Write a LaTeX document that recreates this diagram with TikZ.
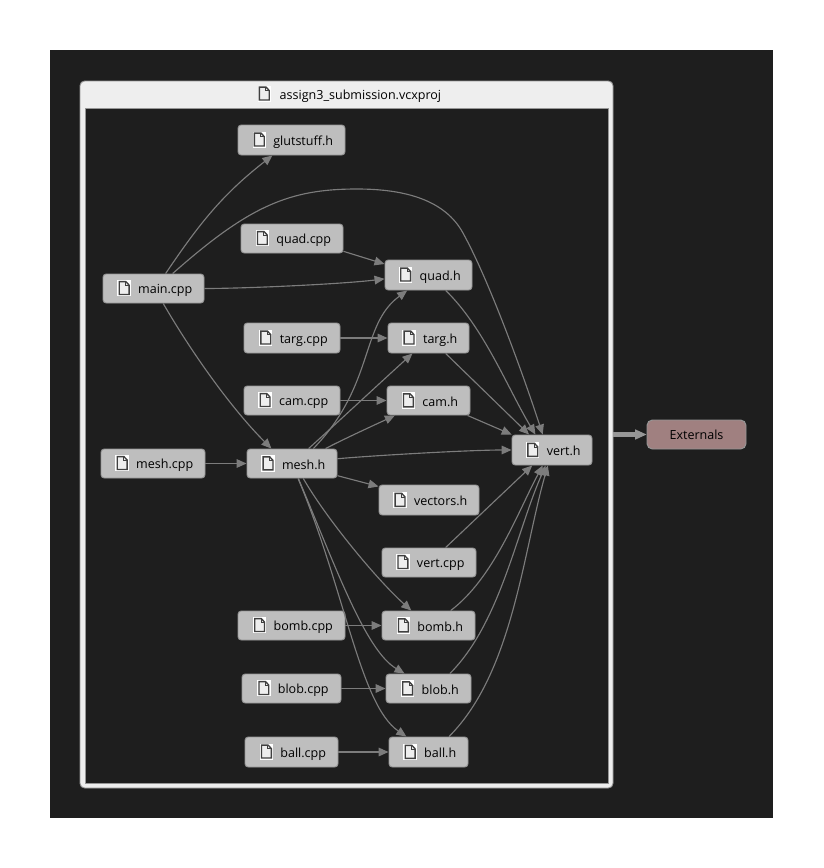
\documentclass[tikz,border=0pt]{standalone}
\usepackage{fontspec}
\setmainfont{Open Sans}
\usetikzlibrary{arrows.meta}

\definecolor{pagedark}{HTML}{1E1E1E}
\definecolor{boxgray}{HTML}{BEBEBE}
\definecolor{boxline}{HTML}{969696}
\definecolor{edgegray}{HTML}{7C7C7C}
\definecolor{extred}{HTML}{A08080}
\definecolor{titlegray}{HTML}{EEEEEE}

\newcommand{\fileicon}{\hspace{2pt}\tikz[baseline=1pt,x=1pt,y=1pt,sharp corners,line join=miter]{
    \fill[white] (-0.8,-0.8) rectangle (9.3,11.3);
    \draw[fill=titlegray,draw=pagedark!85,line width=1pt] (0.6,0.5) -- (0.6,10.2) -- (5.6,10.2) -- (8,7.6) -- (8,0.5) -- cycle;
    \draw[draw=pagedark!85,line width=0.8pt] (5.4,10.2) -- (5.4,7.4) -- (8,7.4);
}}

\begin{document}
\begin{tikzpicture}[x=0.75pt,y=0.75pt,font=\fontsize{9.4pt}{10pt}\selectfont,
                    box size/.style 2 args={minimum width=#1*0.75pt,minimum height=#2*0.75pt},
                    main node/.style={draw=boxline,fill=boxgray,rounded corners=2.5pt,line width=0.7pt,
                                      text=black,inner sep=0pt},
                    dep/.style={draw=edgegray,line width=0.85pt,-{Triangle[length=7.5pt,width=6.5pt,fill=edgegray]}}]

    \useasboundingbox (0,0) rectangle (824,-868);
    \fill[pagedark] (50,-50) rectangle (773,-818);

    % project frame
    \node[draw=boxline,fill=titlegray,rounded corners=3.5pt,line width=0.7pt,box size={533}{707}] (group) at (346.5,-434.5) {};
    \filldraw[fill=pagedark,draw=boxline,line width=0.6pt] (85,-108) rectangle (608,-783);
    \node[text=black,inner sep=0pt] (title) at (348,-94) {\fileicon\hspace{6.5pt}assign3\_submission.vcxproj};

    \node[main node,box size={107}{30}] (glutstuff) at (291.5,-140) {\fileicon\hspace{5.5pt}glutstuff.h};
    \node[main node,box size={102}{29}] (quadcpp) at (292,-238.5) {\fileicon\hspace{5.5pt}quad.cpp};
    \node[main node,box size={101}{29}] (main) at (153.5,-288.5) {\fileicon\hspace{5.5pt}main.cpp};
    \node[main node,box size={87}{30}] (quad) at (428.5,-275) {\fileicon\hspace{5.5pt}quad.h};
    \node[main node,box size={96}{30}] (targcpp) at (292,-338) {\fileicon\hspace{5.5pt}targ.cpp};
    \node[main node,box size={81}{30}] (targ) at (428.5,-338) {\fileicon\hspace{5.5pt}targ.h};
    \node[main node,box size={96}{29}] (camcpp) at (292,-400.5) {\fileicon\hspace{5.5pt}cam.cpp};
    \node[main node,box size={83}{29}] (cam) at (428.5,-400.5) {\fileicon\hspace{5.5pt}cam.h};
    \node[main node,box size={80}{30}] (vert) at (552,-450) {\fileicon\hspace{5.5pt}vert.h};
    \node[main node,box size={104}{29}] (meshcpp) at (153,-463.5) {\fileicon\hspace{5.5pt}mesh.cpp};
    \node[main node,box size={90}{29}] (mesh) at (292,-463.5) {\fileicon\hspace{5.5pt}mesh.h};
    \node[main node,box size={100}{30}] (vectors) at (429,-500) {\fileicon\hspace{5.5pt}vectors.h};
    \node[main node,box size={94}{29}] (vertcpp) at (429,-562.5) {\fileicon\hspace{5.5pt}vert.cpp};
    \node[main node,box size={107}{29}] (bombcpp) at (291.5,-625.5) {\fileicon\hspace{5.5pt}bomb.cpp};
    \node[main node,box size={93}{29}] (bomb) at (428.5,-625.5) {\fileicon\hspace{5.5pt}bomb.h};
    \node[main node,box size={99}{29}] (blobcpp) at (291.5,-688.5) {\fileicon\hspace{5.5pt}blob.cpp};
    \node[main node,box size={85}{29}] (blob) at (428.5,-688.5) {\fileicon\hspace{5.5pt}blob.h};
    \node[main node,box size={93}{30}] (ballcpp) at (291.5,-752) {\fileicon\hspace{5.5pt}ball.cpp};
    \node[main node,box size={79}{30}] (ball) at (428.5,-752) {\fileicon\hspace{5.5pt}ball.h};
    \node[main node,fill=extred,rounded corners=4pt,box size={99}{29}] (ext) at (696.5,-434.5) {Externals};

    % dependencies
    \path[every edge/.append style={dep}]
      (main.51) edge [out=56,in=218] (glutstuff.-141)
      (main.0) edge [out=0,in=187,looseness=0.6] (quad.185)
      (main.-57) edge [out=-60,in=135,looseness=0.8] (mesh.144)
      (quadcpp.-14) edge (quad.166)
      (targcpp) edge (targ)
      (camcpp) edge (cam)
      (meshcpp) edge (mesh)
      (bombcpp) edge (bomb)
      (blobcpp) edge (blob)
      (ballcpp) edge (ball)
      (mesh.42) edge [out=42,in=222,looseness=0.6] (targ.-136)
      (mesh.24) edge [out=28,in=205,looseness=0.6] (cam.-156)
      (mesh.6) edge [out=5,in=180,looseness=0.6] (vert.180)
      (mesh.-15) edge (vectors.165)
      (mesh.-53) edge [out=-60,in=138,looseness=0.7] (bomb.139)
      (quad.-42) edge [out=-44,in=121,looseness=0.8] (vert.137)
      (targ.-42) edge (vert.146)
      (cam.-21) edge (vert.159)
      (vertcpp.42) edge (vert.-142)
      (bomb.34) edge [out=37,in=-118,looseness=0.8] (vert.-121)
      (blob.35) edge [out=45,in=-114,looseness=0.8] (vert.-112)
      (ball.37) edge [out=45,in=-106,looseness=0.8] (vert.-105);
    \draw[dep] (main.38) .. controls (250,-205) and (290,-189) .. (357,-189)
               .. controls (405,-189) and (445,-200) .. (463,-233)
               .. controls (490,-282) and (525,-380) .. (vert.121);
    \draw[dep] (mesh.35) .. controls (375,-385) and (360,-325) .. (quad.-144);
    \draw[dep] (mesh.-67) .. controls (335,-565) and (365,-650) .. (blob.148);
    \draw[dep] (mesh.-68) .. controls (345,-590) and (360,-705) .. (ball.145);

    \draw[draw=boxline,double=boxgray!80!black,line width=0.9pt,double distance=1.6pt,
          -{Triangle[length=8.5pt,width=7.5pt,fill=boxline]}] (group) -- (ext);
\end{tikzpicture}
\end{document}
